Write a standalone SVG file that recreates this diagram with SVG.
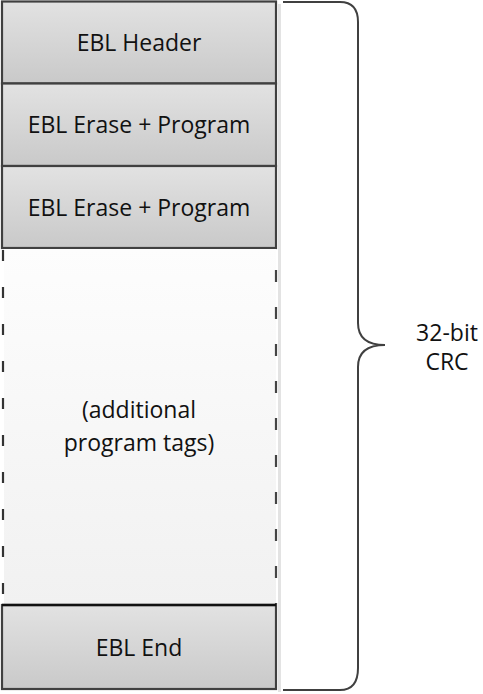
<svg xmlns="http://www.w3.org/2000/svg" width="483" height="694" viewBox="0 0 483 694">
<defs>
<linearGradient id="g" x1="0" y1="0" x2="0" y2="1">
<stop offset="0" stop-color="#e2e2e2"/>
<stop offset="1" stop-color="#c9c9c9"/>
</linearGradient>
<linearGradient id="lg" x1="0" y1="0" x2="0" y2="1">
<stop offset="0" stop-color="#fdfdfd"/>
<stop offset="1" stop-color="#f1f1f1"/>
</linearGradient>
<style>
.box{fill:url(#g);stroke:#404040;stroke-width:2.2}
.t{font-family:"Open Sans","Liberation Sans",sans-serif;font-size:23px;fill:#111;text-anchor:middle}
.sh{stroke:#e3e3e3;stroke-width:3}
</style>
</defs>
<rect width="483" height="694" fill="#fff"/>
<g id="shadow">
<line class="sh" x1="279.5" y1="4" x2="279.5" y2="692"/>
</g>
<g id="header">
<rect class="box" x="2" y="1.5" width="274" height="82"/>
<text class="t" x="139" y="51">EBL Header</text>
</g>
<g id="erase1">
<rect class="box" x="2" y="83.5" width="274" height="82.5"/>
<text class="t" x="139" y="133">EBL Erase + Program</text>
</g>
<g id="erase2">
<rect class="box" x="2" y="166" width="274" height="82"/>
<text class="t" x="139" y="216">EBL Erase + Program</text>
</g>
<g id="additional">
<rect x="4" y="249" width="272" height="356" fill="url(#lg)"/>
<line x1="3" y1="250" x2="3" y2="604" stroke="#333" stroke-width="2.2" stroke-dasharray="11,26"/>
<line x1="276" y1="270" x2="276" y2="604" stroke="#444" stroke-width="2.2" stroke-dasharray="12,25"/>
<text class="t" x="139" y="418">(additional</text>
<text class="t" x="139" y="451">program tags)</text>
</g>
<g id="end">
<rect class="box" x="2" y="605" width="274" height="84"/>
<line x1="2" y1="605" x2="276" y2="605" stroke="#111" stroke-width="2.4"/>
<text class="t" x="139" y="656">EBL End</text>
</g>
<g id="connectors">
<path d="M283,2 H340 Q358,2 358,22 V323 Q358,345 385,345 Q358,345 358,367 V668 Q358,690 340,690 H283" fill="none" stroke="#404040" stroke-width="2"/>
</g>
<g id="crc">
<text class="t" x="447" y="341">32-bit</text>
<text class="t" x="447" y="370">CRC</text>
</g>
</svg>
